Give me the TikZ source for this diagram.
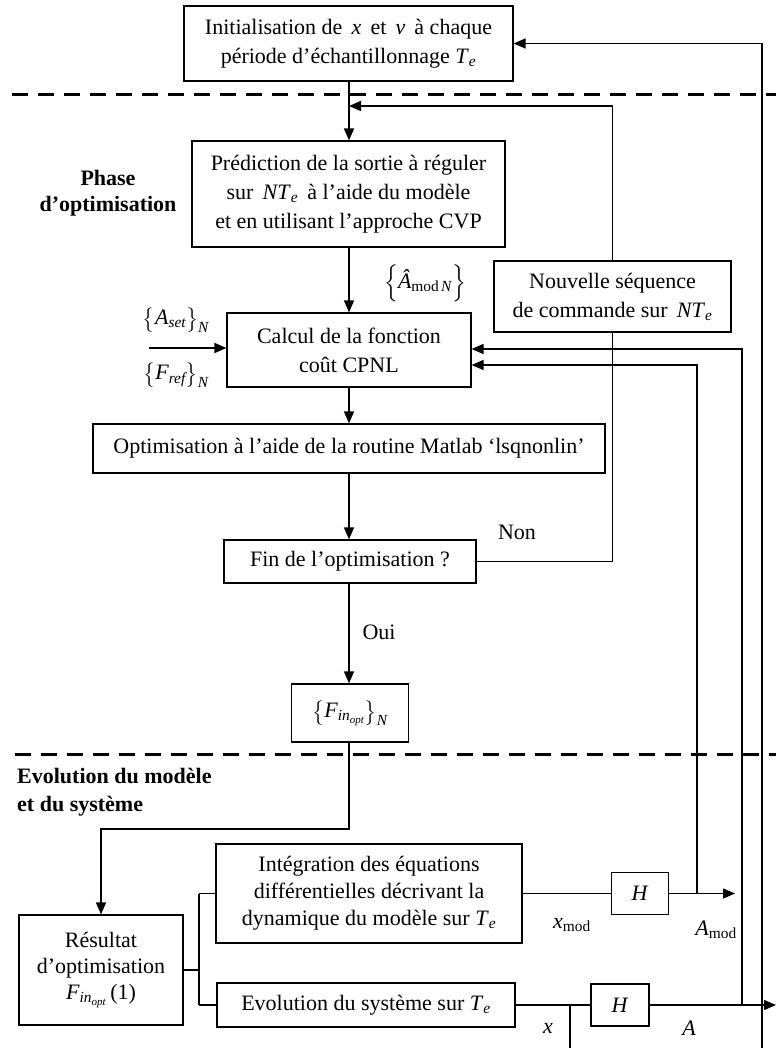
\documentclass[tikz,border=0pt]{standalone}
\usepackage{fontspec}
\setmainfont{Liberation Serif}
\usepackage{amsmath}
\usetikzlibrary{arrows.meta,calc}
\newcommand{\vi}[1]{\textit{#1}}
\begin{document}
\begin{tikzpicture}[x=1pt,y=-1pt,
  every node/.style={font=\fontsize{22}{29}\selectfont},
  box/.style={draw, line width=1.2pt, align=center, inner sep=0pt},
  conn/.style={line width=1.5pt},
  arr/.style={conn, -{Triangle[length=12pt,width=10pt]}},
  sepline/.style={line width=3pt, dash pattern=on 16pt off 10pt},
  lbl/.style={inner sep=0pt}
]
\useasboundingbox (0,0) rectangle (776,1048);

% boxes
\node[box, minimum width=329, minimum height=75] (init) at (348.5,43.5)
  {Initialisation de \,\vi{x}\, et \,\vi{ν}\, à chaque\\période d’échantillonnage \vi{T}$_{\vi{e}}$};
\node[box, minimum width=313, minimum height=106] (pred) at (348.5,194)
  {Prédiction de la sortie à réguler\\sur \,\vi{NT}$_{\vi{e}}$\, à l’aide du modèle\\et en utilisant l’approche CVP};
\node[box, minimum width=237, minimum height=71] (nouv) at (612.5,296.5)
  {Nouvelle séquence\\de commande sur \,\vi{NT}$_{\vi{e}}$};
\node[box, minimum width=244, minimum height=74] (calc) at (349,350)
  {Calcul de la fonction\\coût CPNL};
\node[box, minimum width=512, minimum height=49] (optim) at (349,448.5)
  {Optimisation à l’aide de la routine Matlab ‘lsqnonlin’};
\node[box, minimum width=252, minimum height=43] (fin) at (350,561.5)
  {Fin de l’optimisation ?};
\node[box, minimum width=117, minimum height=58] (fopt) at (350,713)
  {$\bigl\{\vi{F}_{\vi{in}_{\vi{opt}}}\bigr\}_{\vi{N}}$};
\node[box, minimum width=164, minimum height=110, font=\fontsize{22}{26}\selectfont] (res) at (101,970)
  {Résultat\\d’optimisation\\\vi{F}$_{\vi{in}_{\vi{opt}}}$\,(1)};
\node[box, minimum width=306, minimum height=99, font=\fontsize{22}{27}\selectfont] (integ) at (369,893.5)
  {Intégration des équations\\différentielles décrivant la\\dynamique du modèle sur \vi{T}$_{\vi{e}}$};
\node[box, minimum width=298, minimum height=44] (evol) at (366,1005)
  {Evolution du système sur \vi{T}$_{\vi{e}}$};
\node[box, minimum width=57, minimum height=42] (H1) at (640,893.5) {\vi{H}};
\node[box, minimum width=58, minimum height=42] (H2) at (620,1005) {\vi{H}};

% section labels
\node[lbl, align=center, font=\bfseries\fontsize{22}{26}\selectfont] (phase) at (108,193)
  {Phase\\d’optimisation};
\node[lbl, align=left, anchor=west, font=\bfseries\fontsize{22}{28}\selectfont] (evo) at (17,792)
  {Evolution du modèle\\et du système};

% separators
\draw[sepline] (12,95) -- (776,95);
\draw[sepline] (15,754) -- (776,754);

% main column
\coordinate (col) at (349,0);
\draw[arr] (init.south -| col) -- (pred.north -| col);
\draw[arr] (pred.south -| col) -- (calc.north -| col);
\draw[arr] (calc.south -| col) -- (optim.north -| col);
\draw[arr] (optim.south -| col) -- (fin.north -| col);
\draw[arr] (fin.south -| col) -- (fopt.north -| col);

% Non loop
\coordinate (ret) at (349,106);
\draw[conn] (fin.east) -- (fin.east -| nouv.south) -- (nouv.south);
\draw[arr] (nouv.north) -- (nouv.north |- ret) -- (ret);

% top loop
\coordinate (rb) at (762,1048);
\draw[arr] (rb) -- (rb |- init.east) -- (init.east);

% inputs of calc
\coordinate (inA) at (149,348);
\draw[arr] (inA) -- (inA -| calc.west);
\coordinate (sysA) at (742,1005);
\coordinate (modA) at (697,893.5);
\coordinate (k1) at (0,349);
\coordinate (k2) at (0,365);
\draw[arr] (sysA) -- (sysA |- k1) -- (k1 -| calc.east);
\draw[arr] (modA) -- (modA |- k2) -- (k2 -| calc.east);

% bottom part
\coordinate (turn) at (349,829);
\draw[arr] (fopt.south -| col) -- (turn) -- (turn -| res.north) -- (res.north);
\coordinate (jx) at (199,0);
\draw[conn] (res.east) -- (res.east -| jx);
\draw[conn] (integ.west -| jx) -- (evol.west -| jx);
\draw[conn] (integ.west -| jx) -- (integ.west);
\draw[conn] (evol.west -| jx) -- (evol.west);
\draw[conn] (integ.east) -- (H1.west);
\coordinate (amEnd) at (735,893.5);
\draw[arr] (H1.east) -- (amEnd);
\draw[conn] (evol.east) -- (H2.west);
\coordinate (aEnd) at (776,1005);
\draw[arr] (H2.east) -- (aEnd);
\coordinate (xb) at (570,1048);
\draw[conn] (xb) -- (xb |- evol.east);

% labels
\node[lbl] (amhat) at (425,283) {$\Bigl\{\vi{Â}_{\text{mod}\,\vi{N}}\Bigr\}$};
\node[lbl] (aset) at (176,320) {$\bigl\{\vi{A}_{\vi{set}}\bigr\}_{\vi{N}}$};
\node[lbl] (fref) at (176,375) {$\bigl\{\vi{F}_{\vi{ref}}\bigr\}_{\vi{N}}$};
\node[lbl] (non) at (517,532) {Non};
\node[lbl] (oui) at (379,632) {Oui};
\node[lbl] (xmod) at (572,925) {\vi{x}$_{\text{mod}}$};
\node[lbl] (amod) at (716,930) {\vi{A}$_{\text{mod}}$};
\node[lbl] (xl) at (548,1028) {\vi{x}};
\node[lbl] (al) at (689,1028) {\vi{A}};
\end{tikzpicture}
\end{document}
